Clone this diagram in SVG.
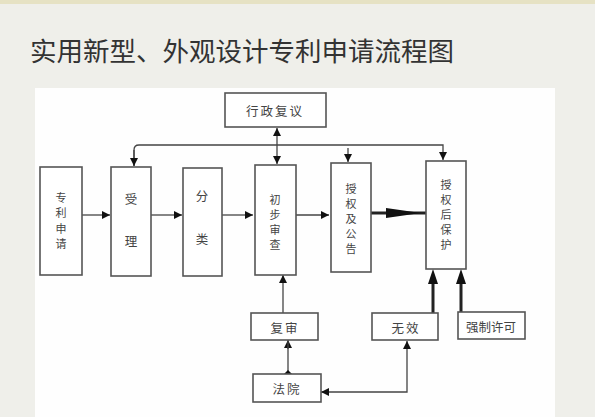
<svg xmlns="http://www.w3.org/2000/svg" width="595" height="417" viewBox="0 0 595 417">
<style>
.box{fill:#fff;stroke:#555;stroke-width:1.6}
.t{font-family:"Noto Sans CJK SC","Noto Sans CJK JP",sans-serif;font-size:12.5px;fill:#444;text-anchor:middle;dominant-baseline:central}
.v{font-size:11px}
.ln{fill:none;stroke:#444;stroke-width:1.3}
.thick{fill:none;stroke:#222;stroke-width:3}
</style>
<defs>
<marker id="ah" viewBox="0 0 10 10" refX="10" refY="5" markerWidth="8" markerHeight="8" markerUnits="userSpaceOnUse" orient="auto-start-reverse">
<path d="M0,0 L10,5 L0,10 z" fill="#111"/>
</marker>
</defs>
<rect x="0" y="0" width="595" height="417" fill="#efefea"/>
<rect x="0" y="0" width="595" height="4" fill="#e6e2c4"/>
<rect x="35" y="88" width="520" height="335" fill="#fefefe"/>
<text x="30" y="61" font-family="'Noto Sans CJK SC','Noto Sans CJK JP',sans-serif" font-size="26.5" fill="#333">实用新型、外观设计专利申请流程图</text>

<g id="connectors">
<path class="ln" d="M82,215 H110" marker-end="url(#ah)"/>
<path class="ln" d="M151,215 H182" marker-end="url(#ah)"/>
<path class="ln" d="M222,215 H253" marker-end="url(#ah)"/>
<path class="ln" d="M296,215 H329" marker-end="url(#ah)"/>
<path class="thick" d="M371,213 H426"/>
<polygon points="386,208 421,213 386,218" fill="#111"/>
<path class="ln" d="M134,166 V150 Q134,145 139,145 H443 V160" marker-end="url(#ah)"/>
<path class="ln" d="M134,150 V166" marker-end="url(#ah)"/>
<path class="ln" d="M277,145 V128" marker-end="url(#ah)"/>
<path class="ln" d="M277,145 V164" marker-end="url(#ah)"/>
<path class="ln" d="M348,148 V162" marker-end="url(#ah)"/>
<path class="ln" d="M283,313 V275" marker-end="url(#ah)"/>
<path class="ln" d="M288,349 V340" marker-end="url(#ah)"/>
<path class="ln" d="M288,340 V374"/>
<polygon points="284,374 292,374 288,370" fill="#111"/>
<path class="ln" d="M321,392 H407 V341" marker-end="url(#ah)" marker-start="url(#ah)"/>
<path class="thick" d="M433,313 V282"/>
<polygon points="428,284 438,284 433,269" fill="#111"/>
<path class="thick" d="M461,312 V282"/>
<polygon points="456,284 466,284 461,269" fill="#111"/>
</g>

<g id="n-shenqing"><rect class="box" x="40" y="167" width="42" height="108"/>
<text class="t v" x="61" y="197">专</text><text class="t v" x="61" y="212">利</text><text class="t v" x="61" y="228">申</text><text class="t v" x="61" y="243">请</text></g>
<g id="n-shouli"><rect class="box" x="111" y="167" width="40" height="109"/>
<text class="t" x="131" y="198">受</text><text class="t" x="131" y="240">理</text></g>
<g id="n-fenlei"><rect class="box" x="183" y="168" width="39" height="108"/>
<text class="t" x="202" y="195">分</text><text class="t" x="202" y="238">类</text></g>
<g id="n-chubu"><rect class="box" x="255" y="165" width="41" height="110"/>
<text class="t v" x="275" y="199">初</text><text class="t v" x="275" y="214">步</text><text class="t v" x="275" y="229">审</text><text class="t v" x="275" y="244">查</text></g>
<g id="n-shouquan"><rect class="box" x="331" y="163" width="40" height="109"/>
<text class="t v" x="351" y="188">授</text><text class="t v" x="351" y="203">权</text><text class="t v" x="351" y="218">及</text><text class="t v" x="351" y="233">公</text><text class="t v" x="351" y="248">告</text></g>
<g id="n-baohu"><rect class="box" x="426" y="161" width="40" height="108"/>
<text class="t v" x="446" y="184">授</text><text class="t v" x="446" y="199">权</text><text class="t v" x="446" y="214">后</text><text class="t v" x="446" y="229">保</text><text class="t v" x="446" y="244">护</text></g>
<g id="n-xingzheng"><rect class="box" x="225" y="93" width="101" height="34"/>
<text class="t" x="275" y="110" letter-spacing="2">行政复议</text></g>
<g id="n-fushen"><rect class="box" x="251" y="313" width="67" height="27"/>
<text class="t" x="285" y="327" letter-spacing="2">复审</text></g>
<g id="n-wuxiao"><rect class="box" x="372" y="313" width="66" height="27"/>
<text class="t" x="406" y="327" letter-spacing="2">无效</text></g>
<g id="n-qiangzhi"><rect class="box" x="458" y="312" width="67" height="27"/>
<text class="t" x="491" y="326">强制许可</text></g>
<g id="n-fayuan"><rect class="box" x="253" y="374" width="68" height="28"/>
<text class="t" x="287" y="388" letter-spacing="2">法院</text></g>
</svg>
